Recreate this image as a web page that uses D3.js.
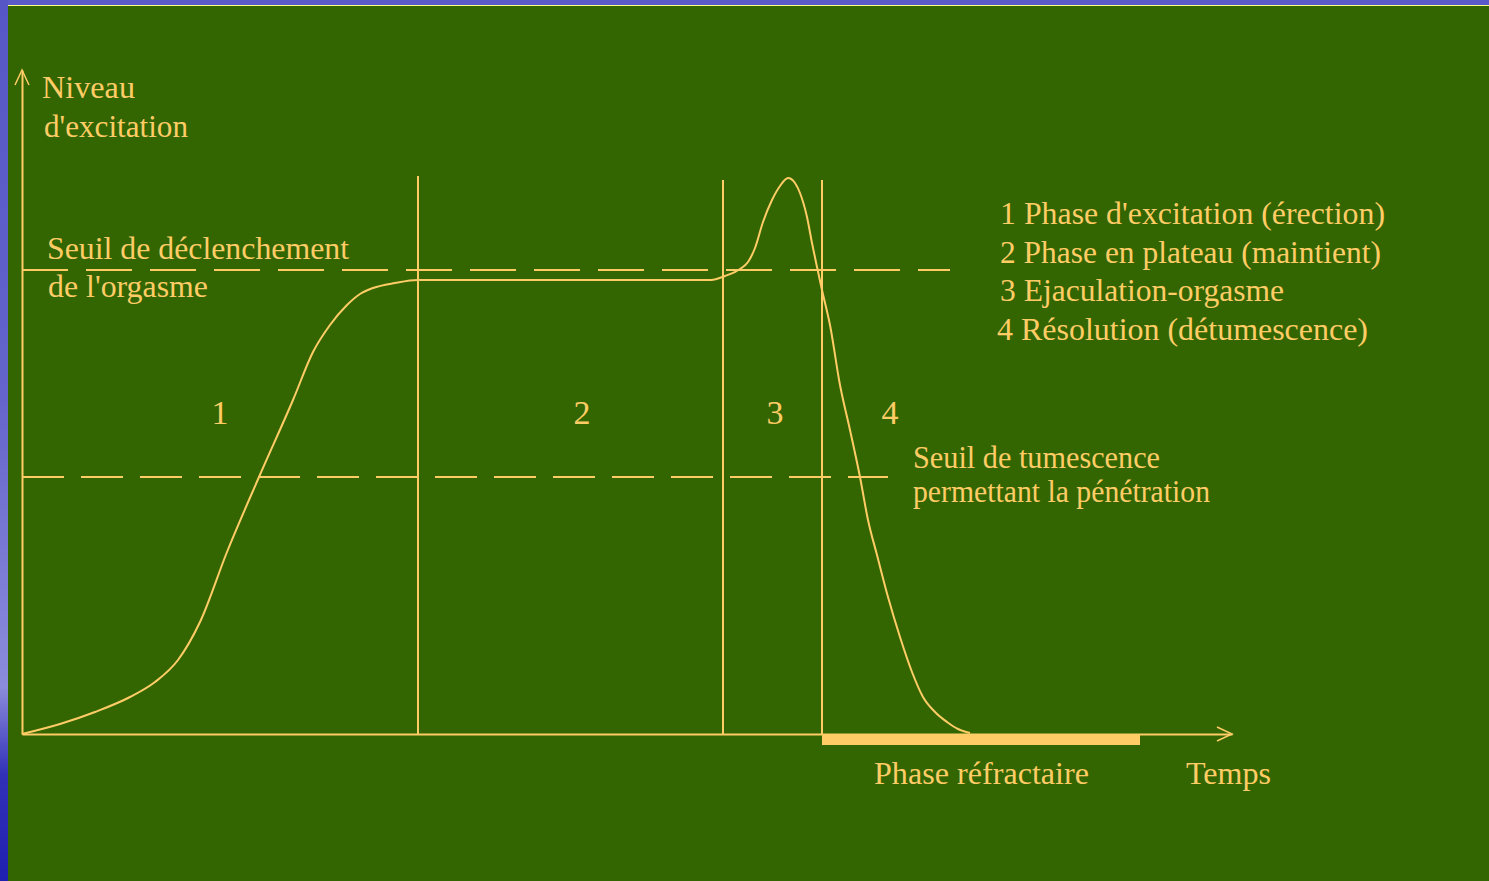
<!DOCTYPE html>
<html>
<head>
<meta charset="utf-8">
<script src="https://cdn.jsdelivr.net/npm/d3@7"></script>
<style>
  html, body { margin: 0; padding: 0; background: #336600; overflow: hidden; }
  svg text { font-family: "Liberation Serif", "Times New Roman", serif; fill: #ffcc66; }
</style>
</head>
<body>
<div id="chart"></div>
<script>
// excitation curve (time, level)
const curveTime = [0, 3.8, 7.3, 10.8, 13.3, 15.6, 17.8, 20.5, 23.7, 27.1, 29.1, 30.8, 32.5, 33.8, 35.1, 37.3, 39.6,
  47.8, 57.8, 68.9, 70.3, 71.8, 72.6, 73.3, 74.1, 75.0, 75.8, 76.6, 77.3, 77.8, 78.5, 79.0, 79.5, 80.0,
  80.8, 81.8, 82.8, 83.8, 84.6, 85.5, 86.6, 87.8, 89.0, 90.1, 91.3, 92.5, 93.6, 94.8];
const curveLevel = [0, 1.0, 2.2, 3.7, 5.2, 7.4, 11.2, 18.2, 25.7, 33.4, 38.2, 40.9, 42.9, 44.0, 44.6, 45.1, 45.4,
  45.4, 45.4, 45.4, 45.8, 46.5, 47.2, 48.6, 51.2, 53.4, 54.8, 55.6, 55.1, 54.1, 51.7, 49.1, 46.7, 44.4,
  40.9, 34.9, 30.4, 25.7, 21.4, 17.9, 13.7, 9.7, 6.2, 3.7, 2.2, 1.2, 0.5, 0.1];

// phase boundaries and their top
const phaseBounds = [39.6, 70.1, 80.0];
const phaseTops = [55.8, 55.4, 55.4];
const phaseNames = ['1', '2', '3', '4'];
const phaseNameX = [19.8, 56.0, 75.3, 86.8];

// thresholds
const thresholdLevels = [46.4, 25.7];
const thresholdEnds = [92.8, 86.6];

// refractory period
const refractory = [80.0, 111.8];

const legendItems = [
  "1 Phase d'excitation (érection)",
  "2 Phase en plateau (maintient)",
  "3 Ejaculation-orgasme",
  "4 Résolution (détumescence)"
];

const width = 1489, height = 881;
const lineColor = '#ffcc66';
const dashes = ['46,18', '42,17'];

const x = d3.scaleLinear().domain([0, 121]).range([22, 1232]);
const y = d3.scaleLinear().domain([0, 66.4]).range([734, 70]);

const svg = d3.select('#chart').append('svg')
  .attr('width', width)
  .attr('height', height);

// slide frame (blue edges)
const defs = svg.append('defs');
const grad = defs.append('linearGradient')
  .attr('id', 'edge')
  .attr('x1', 0).attr('y1', 0).attr('x2', 0).attr('y2', 1);
grad.append('stop').attr('offset', '0%').attr('stop-color', '#5656c6');
grad.append('stop').attr('offset', '45%').attr('stop-color', '#6464cc');
grad.append('stop').attr('offset', '78%').attr('stop-color', '#8c8cdc');
grad.append('stop').attr('offset', '88%').attr('stop-color', '#3030b8');
grad.append('stop').attr('offset', '100%').attr('stop-color', '#2020b0');

svg.append('rect').attr('width', width).attr('height', height).attr('fill', '#336600');
svg.append('rect').attr('width', width).attr('height', 5).attr('fill', '#5a5acb');
svg.append('rect').attr('width', 8).attr('height', height).attr('fill', 'url(#edge)');
svg.append('line')
  .attr('x1', 8).attr('x2', width).attr('y1', 5.5).attr('y2', 5.5)
  .attr('stroke', '#ffff88').attr('stroke-width', 1);

const g = svg.append('g');

// axes
g.append('g')
  .attr('class', 'x-axis')
  .attr('transform', 'translate(0,' + y(0) + ')')
  .call(d3.axisBottom(x).ticks(0).tickSizeOuter(0));

g.append('g')
  .attr('class', 'y-axis')
  .attr('transform', 'translate(' + x(0) + ',0)')
  .call(d3.axisLeft(y).ticks(0).tickSizeOuter(0));

g.selectAll('.domain')
  .attr('stroke', lineColor)
  .attr('stroke-width', 2);

// arrow heads
const xEnd = x.range()[1], yEnd = y.range()[1];
g.append('path')
  .attr('d', 'M' + (xEnd - 15) + ',' + (y(0) - 7) + 'L' + xEnd + ',' + y(0) + 'L' + (xEnd - 15) + ',' + (y(0) + 7))
  .attr('fill', 'none').attr('stroke', lineColor).attr('stroke-width', 1.5);
g.append('path')
  .attr('d', 'M' + (x(0) - 7) + ',' + (yEnd + 15) + 'L' + x(0) + ',' + yEnd + 'L' + (x(0) + 7) + ',' + (yEnd + 15))
  .attr('fill', 'none').attr('stroke', lineColor).attr('stroke-width', 1.5);

// refractory bar
g.append('rect')
  .attr('x', x(refractory[0]))
  .attr('y', y(0))
  .attr('width', x(refractory[1]) - x(refractory[0]))
  .attr('height', 11)
  .attr('fill', lineColor);

// thresholds
g.selectAll('.threshold')
  .data(thresholdLevels)
  .enter().append('line')
  .attr('class', 'threshold')
  .attr('x1', x(0))
  .attr('x2', (d, i) => x(thresholdEnds[i]))
  .attr('y1', d => y(d))
  .attr('y2', d => y(d))
  .attr('stroke', lineColor)
  .attr('stroke-width', 2)
  .attr('stroke-dasharray', (d, i) => dashes[i]);

// phase boundaries
g.selectAll('.bound')
  .data(phaseBounds)
  .enter().append('line')
  .attr('class', 'bound')
  .attr('x1', d => x(d))
  .attr('x2', d => x(d))
  .attr('y1', y(0))
  .attr('y2', (d, i) => y(phaseTops[i]))
  .attr('stroke', lineColor)
  .attr('stroke-width', 2);

// the curve
const points = curveTime.map((t, i) => [t, curveLevel[i]]);
const line = d3.line()
  .x(d => x(d[0]))
  .y(d => y(d[1]))
  .curve(d3.curveMonotoneX);

g.append('path')
  .datum(points)
  .attr('d', line)
  .attr('fill', 'none')
  .attr('stroke', lineColor)
  .attr('stroke-width', 2);

// phase numbers
g.selectAll('.phase-num')
  .data(phaseNames)
  .enter().append('text')
  .attr('class', 'phase-num')
  .attr('x', (d, i) => x(phaseNameX[i]))
  .attr('y', y(31.0))
  .attr('text-anchor', 'middle')
  .style('font-size', '34px')
  .text(d => d);

// other labels: [text, time, level, width]
const labels = [
  ['Niveau', 2.0, 63.6, 93],
  ["d'excitation", 2.2, 59.7, 144],
  ['Seuil de déclenchement', 2.5, 47.5, 302],
  ["de l'orgasme", 2.6, 43.7, 160],
  ['Seuil de tumescence', 89.1, 26.6, 247],
  ['permettant la pénétration', 89.1, 23.2, 297],
  ['Phase réfractaire', 85.2, -5.0, 215],
  ['Temps', 116.4, -5.0, 85]
];
const legendY = [51.0, 47.1, 43.3, 39.4];
const legendW = [385, 381, 284, 371];
legendItems.forEach((t, i) => labels.push([t, i === 3 ? 97.5 : 97.8, legendY[i], legendW[i]]));

g.selectAll('.label')
  .data(labels)
  .enter().append('text')
  .attr('class', 'label')
  .attr('x', d => x(d[1]))
  .attr('y', d => y(d[2]))
  .style('font-size', '31px')
  .attr('textLength', d => d[3])
  .attr('lengthAdjust', 'spacingAndGlyphs')
  .text(d => d[0]);
</script>
</body>
</html>
